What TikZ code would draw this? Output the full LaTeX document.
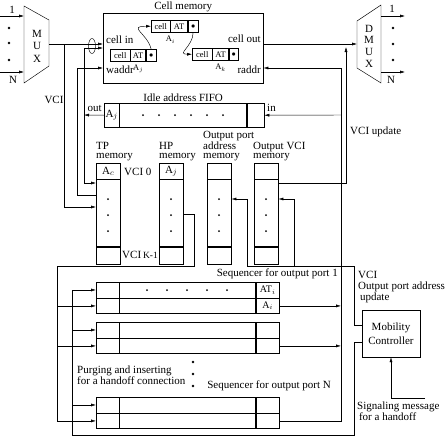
\documentclass[tikz,border=0pt]{standalone}
\usepackage{fontspec}
\setmainfont{Liberation Serif}
\usetikzlibrary{
    arrows.meta,
    shapes.geometric,
    positioning
}
\tikzset{
    >={Latex[length=5pt,width=3pt]},
    field/.style={draw, inner sep=0pt, anchor=north west, minimum width=24pt},
    cf/.style={draw, inner sep=0pt, minimum height=12pt, font=\fontsize{8.5}{8.5}\selectfont},
    lbl/.style={inner sep=0pt, align=left, font=\fontsize{11}{9.5}\selectfont},
}

\begin{document}
\begin{tikzpicture}[x=1pt, y=-1pt, line width=0.45pt, font=\fontsize{11}{11}\selectfont]
\useasboundingbox (0,0) rectangle (448,437);

% MUX and DMUX
\draw (24,6) -- (49,20) -- (49,66) -- (24,83) -- cycle;
\node[align=center, font=\fontsize{11}{12.5}\selectfont] (mux) at (37,46) {M\\U\\X};
\draw[->] (0,16) -- (24,16);
\draw[->] (0,72) -- (24,72);
\node (in1) at (12,10) {1};
\node (inN) at (13,80) {N};
\foreach \y in {28,43,60} \fill (9,\y) circle (1.4pt);

\draw (357,21) -- (381,5) -- (381,83) -- (357,68) -- cycle;
\node[align=center, font=\fontsize{11}{11.7}\selectfont] (dmux) at (369,46) {D\\M\\U\\X};
\draw[->] (381,16) -- (405,16);
\draw[->] (381,72) -- (405,72);
\node (out1) at (392,9) {1};
\node (outN) at (391,80) {N};
\foreach \y in {28,44,60} \fill (393,\y) circle (1.4pt);

% cell memory
\node[field, minimum width=160pt, minimum height=70pt] (cellmem) at (103,13) {};
\node[above=1pt of cellmem, inner sep=0pt] (cmtitle) {Cell memory};
\node[anchor=west, inner sep=0pt] (cellin) at (106,40) {cell in};
\node[anchor=west, inner sep=0pt] (waddr) at (106,70) {waddr};
\node[anchor=east, inner sep=0pt] (cellout) at (261,39) {cell out};
\node[anchor=east, inner sep=0pt] (raddr) at (261,70) {raddr};

\node[cf, minimum width=20pt, anchor=north west] (c1) at (110,49) {cell};
\node[cf, minimum width=15pt, right=0pt of c1] (t1) {AT};
\node[cf, minimum width=10pt, right=0pt of t1] (p1) {$\bullet$};
\node[cf, draw=none, below=1pt of t1] (a1) {A$_j$};
\node[cf, minimum width=19pt, anchor=north west] (c2) at (151,20) {cell};
\node[cf, minimum width=17pt, right=0pt of c2] (t2) {AT};
\node[cf, minimum width=10pt, right=0pt of t2] (p2) {$\bullet$};
\node[cf, draw=none, below=1pt of c2.south east] (a2) {A$_i$};
\node[cf, minimum width=20pt, anchor=north west] (c3) at (192,48) {cell};
\node[cf, minimum width=16pt, right=0pt of c3] (t3) {AT};
\node[cf, minimum width=9pt, right=0pt of t3] (p3) {$\bullet$};
\node[cf, draw=none, below=1pt of t3] (a3) {A$_k$};
\draw[->] (p1.north) .. controls +(-4,-16) and +(-24,0) .. (c2.west);
\draw[->] (p2.south) .. controls +(0,14) and +(-16,0) .. (c3.west);

% idle address FIFO
\node[field, minimum width=15pt, minimum height=24pt] (fifo1) at (104,103) {A$_j$};
\node[field, minimum width=127pt, minimum height=24pt, right=0pt of fifo1] (fifo2) {};
\node[field, minimum width=17pt, minimum height=24pt, right=0pt of fifo2] (fifo3) {};
\node[above=1pt of fifo2, inner sep=0pt] (fifotitle) {Idle address FIFO};
\foreach \x in {143,159,...,223} \fill (\x,115) circle (1pt);
\node[anchor=south east, inner sep=0pt] (outlbl) at (102,112) {out};
\node[anchor=south west, inner sep=0pt] (inlbl) at (267,112) {in};

% memories
\foreach \m/\x in {tp/96, hp/159, opa/207, ovc/254} {
    \node[field, minimum height=16pt] (\m1) at (\x,163) {};
    \node[field, minimum height=67pt, below=0pt of \m1] (\m2) {};
    \node[field, minimum height=17pt, below=0pt of \m2] (\m3) {};
    \foreach \d in {199,215,231}
        \fill (\x+12,\d) circle (1pt);
}
\node (tpac) at (tp1) {A$_c$};
\node (hpaj) at (hp1) {A$_j$};
\node[lbl, anchor=south west, yshift=1.5pt] (tplbl) at (tp1.north west) {TP\\memory};
\node[lbl, anchor=south west, yshift=1.5pt] (hplbl) at (hp1.north west) {HP\\memory};
\node[lbl, anchor=south west, yshift=1.5pt, xshift=-4pt] (opalbl) at (opa1.north west) {Output port\\address\\memory};
\node[lbl, anchor=south west, yshift=1.5pt, xshift=-1pt] (ovclbl) at (ovc1.north west) {Output VCI\\memory};
\node[lbl, anchor=west] (vci0) at (124,172) {VCI 0};
\node[lbl, anchor=west] (vcik) at (122,255) {VCI\,{\fontsize{9.5}{9.5}\selectfont K-1}};

% sequencers
\foreach \s/\y in {1/282, 2/322, N/397} {
    \node[field, minimum width=23pt, minimum height=15.5pt] (s\s-a1) at (96,\y) {};
    \node[field, minimum width=136pt, minimum height=15.5pt, right=0pt of s\s-a1] (s\s-a2) {};
    \node[field, minimum width=23pt, minimum height=15.5pt, right=0pt of s\s-a2] (s\s-a3) {};
    \node[field, minimum width=23pt, minimum height=15.5pt, below=0pt of s\s-a1] (s\s-b1) {};
    \node[field, minimum width=136pt, minimum height=15.5pt, right=0pt of s\s-b1] (s\s-b2) {};
    \node[field, minimum width=23pt, minimum height=15.5pt, right=0pt of s\s-b2] (s\s-b3) {};
}
\node[font=\fontsize{10}{10}\selectfont] (s1at) at (s1-a3) {AT$_i$};
\node[font=\fontsize{10}{10}\selectfont] (s1ai) at (s1-b3) {A$_i$};
\foreach \x in {147,167,...,227} \fill (\x,290) circle (1pt);
\node[anchor=east, inner sep=0pt] (seq1lbl) at (338,274) {Sequencer for output port 1};
\node[anchor=east, inner sep=0pt] (seqNlbl) at (331,386) {Sequencer for output port N};
\node[lbl, font=\fontsize{11}{11}\selectfont, anchor=west] (purge) at (77,375) {Purging and inserting\\for a handoff connection};
\foreach \y in {362,374,386} \fill (193,\y) circle (1.4pt);

% mobility controller
\node[draw, minimum width=58pt, minimum height=47pt, align=center, font=\fontsize{11}{14}\selectfont] (mc) at (391,333.5) {Mobility\\Controller};
\node[lbl, font=\fontsize{11}{11}\selectfont, anchor=north west] (mclbl) at (358,271) {VCI\\Output port address\\\,update};
\node[lbl, font=\fontsize{11}{10.5}\selectfont, anchor=north west] (siglbl) at (357,402) {Signaling message\\\,for a handoff};
\node[anchor=west, inner sep=0pt] (vciupd) at (350,132) {VCI update};
\node[inner sep=0pt] (vcilbl) at (54,100) {VCI};

% junctions
\coordinate (muxo) at (49,44);
\coordinate (vcij) at (64,44);
\coordinate (vcitp) at (64,207);
\coordinate (abus) at (84,115);
\coordinate (aup) at (84,48);
\coordinate (atp) at (84,183);
\coordinate (wbus) at (77,68);
\coordinate (wtp) at (77,195);
\coordinate (dmuxin) at (357,44);
\coordinate (vcu) at (346,47);
\coordinate (vcuturn) at (346,183);
\coordinate (rtop) at (341,68);
\coordinate (rin) at (341,115);
\coordinate (hpturn) at (194,214);
\coordinate (hpbus) at (57,266);
\coordinate (mcv) at (354,325);
\coordinate (mctop) at (354,266);
\coordinate (opaturn) at (247,199);
\coordinate (ovcturn) at (294,199);
\coordinate (mcp) at (354,342);
\coordinate (pbot) at (72,435);
\coordinate (sig) at (425,398);

% connectors
\node[draw, ellipse, minimum width=7pt, minimum height=15pt, inner sep=0pt] (grp) at (92,46) {};
\draw[->] (muxo) -- (cellmem.west |- muxo);
\draw[->] (vcij) |- (tp2.west |- vcitp);
\draw[->] (fifo1.west) -- (abus);
\draw[->] (abus) |- (cellmem.west |- aup);
\draw[->] (abus) |- (tp2.west |- atp);
\draw[->] (tp2.west |- wtp) -| (wbus) -- (cellmem.west |- wbus);
\draw[->] (cellmem.east |- muxo) -- (dmuxin);
\draw[->] (ovc2.east |- vcuturn) -| (vcu);
\draw[->] (sN-b3.east) -| (rtop) -- (cellmem.east |- rtop);
\draw[->] (rin) -- (fifo3.east);
\draw[->] (s1-b3.east) -- (s1-b3.east -| rtop);
\draw[->] (s2-b3.east) -- (s2-b3.east -| rtop);
\draw (hp2.east |- hpturn) -- (hpturn) |- (hpbus);
\draw[->] (mc.west |- mcv) -| (mctop) -| (opaturn) -- (opa2.east |- opaturn);
\draw[->] (ovcturn |- mctop) -- (ovcturn) -- (ovc2.east |- ovcturn);
\draw (mc.west |- mcp) -- (mcp) |- (pbot);
\foreach \s in {1,2,N} {
    \draw[->] (pbot) |- (s\s-a1.west);
    \draw[->] (hpbus) |- (s\s-b1.west);
}
\draw[->] (sig) -| (mc.south);
\end{tikzpicture}
\end{document}
